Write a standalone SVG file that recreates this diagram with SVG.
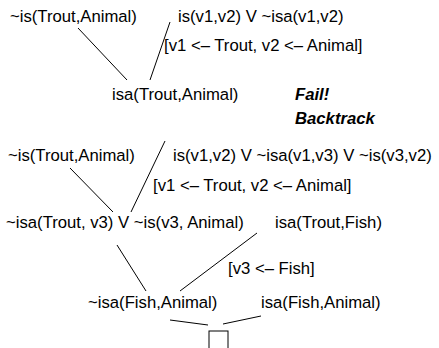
<svg xmlns="http://www.w3.org/2000/svg" width="439" height="348" viewBox="0 0 439 348">
<style>
text{font-family:"Liberation Sans",Arial,Helvetica,sans-serif;font-size:16.7px;fill:#000}
.bi{font-weight:bold;font-style:italic}
line,rect{stroke:#000;stroke-width:1;fill:none}
</style>
<rect width="439" height="348" fill="#fff" style="stroke:none"/>
<g id="connectors">
<line x1="78" y1="28" x2="127" y2="80"/>
<line x1="170" y1="22" x2="150" y2="80"/>
<line x1="70" y1="168" x2="113" y2="212"/>
<line x1="165" y1="141" x2="131" y2="212"/>
<line x1="117" y1="245" x2="146" y2="291"/>
<line x1="257" y1="233" x2="180" y2="291"/>
<line x1="170" y1="320" x2="208" y2="325"/>
<line x1="223" y1="324" x2="261" y2="316"/>
</g>
<g id="n1"><text x="10" y="22">~is(Trout,Animal)</text></g>
<g id="n2"><text x="178" y="22">is(v1,v2) V ~isa(v1,v2)</text></g>
<g id="s1"><text x="164" y="51">[v1 &lt;– Trout, v2 &lt;– Animal]</text></g>
<g id="n3"><text x="112" y="100">isa(Trout,Animal)</text></g>
<g id="fail"><text class="bi" x="295" y="100">Fail!</text><text class="bi" x="295" y="124">Backtrack</text></g>
<g id="n4"><text x="8" y="161">~is(Trout,Animal)</text></g>
<g id="n5"><text x="173" y="161">is(v1,v2) V ~isa(v1,v3) V ~is(v3,v2)</text></g>
<g id="s2"><text x="153" y="191">[v1 &lt;– Trout, v2 &lt;– Animal]</text></g>
<g id="n6"><text x="6" y="228">~isa(Trout, v3) V ~is(v3, Animal)</text></g>
<g id="n7"><text x="275" y="228">isa(Trout,Fish)</text></g>
<g id="s3"><text x="228" y="274">[v3 &lt;– Fish]</text></g>
<g id="n8"><text x="88" y="308">~isa(Fish,Animal)</text></g>
<g id="n9"><text x="261" y="308">isa(Fish,Animal)</text></g>
<g id="empty"><rect x="209" y="331" width="19" height="22"/></g>
</svg>
